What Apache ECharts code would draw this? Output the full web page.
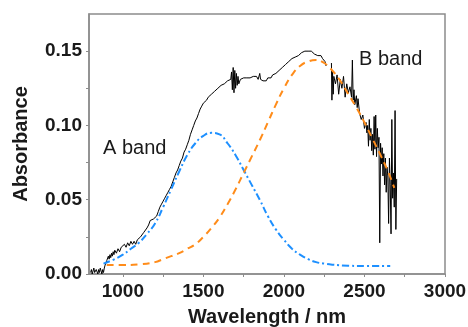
<!DOCTYPE html>
<html>
<head>
<meta charset="utf-8">
<script src="https://cdn.jsdelivr.net/npm/echarts@6/dist/echarts.min.js"></script>
<style>
html,body{margin:0;padding:0;background:#fff;}
#c{width:468px;height:327px;}
</style>
</head>
<body>
<div id="c"></div>
<script>
// Measured spectrum (black): wavelength (nm) and absorbance; null = gap in data
const spectrumWavelength = [
800,805,810,815,820,825,830,835,840,845,850,855,860,865,870,875,880,885,890,895,
900,905,910,915,920,925,930,935,940,945,950,960,970,980,990,1000,1010,1020,1030,1040,
1050,1060,1070,1080,1090,1100,1110,1120,1130,1140,1150,1160,1170,1180,1190,1200,1210,1220,1230,1240,
1250,1260,1270,1280,1290,1300,1310,1320,1330,1340,1350,1360,1370,1380,1390,1400,1410,1420,1430,1440,
1450,1460,1470,1480,1490,1500,1510,1520,1530,1540,1550,1560,1570,1580,1590,1600,1610,1620,1630,1640,
1650,1660,1670,1675,1680,1685,1690,1695,1700,1705,1710,1715,1720,1730,1740,1750,1760,1770,1780,1790,
1800,1810,1820,1830,1840,1850,1855,1860,1870,1880,1890,1900,1910,1920,1930,1940,1950,1960,1970,1980,
1990,2000,2010,2020,2030,2040,2050,2060,2070,2080,2090,2100,2110,2120,2130,2140,2150,2160,2170,2180,
2190,2200,2210,2220,2230,2240,2250,2255,2262,2278,
2295,2298,2302,2306,2310,2320,2330,2340,2350,2360,2370,2380,2390,2400,2410,2420,2425,2430,2435,2440,
2450,2455,2460,2470,2480,2490,2500,2510,2515,2520,2525,2530,2535,2540,2545,2550,2555,2560,2565,2570,
2575,2580,2585,2590,2595,2600,2605,2610,2615,2620,2625,2630,2635,2640,2645,2650,2655,2660,2665,2670,
2675,2680,2685,2690,2695,2700
];
const spectrumAbsorbance = [
0.001,0.003,0.000,0.002,0.004,0.001,0.000,0.003,0.002,0.000,0.003,0.001,0.004,0.002,0.000,0.003,0.001,0.004,0.006,0.005,
0.009,0.008,0.012,0.010,0.013,0.011,0.014,0.012,0.015,0.013,0.016,0.014,0.017,0.015,0.018,0.017,0.020,0.018,0.021,0.019,
0.022,0.020,0.022,0.020,0.023,0.022,0.025,0.026,0.028,0.029,0.031,0.033,0.036,0.035,0.037,0.036,0.039,0.042,0.045,0.047,
0.049,0.051,0.053,0.055,0.057,0.059,0.062,0.065,0.068,0.070,0.073,0.076,0.078,0.082,0.084,0.087,0.090,0.094,0.097,0.100,
0.103,0.105,0.108,0.111,0.113,0.115,0.116,0.117,0.119,0.120,0.121,0.122,0.123,0.124,0.125,0.126,0.127,0.128,0.128,0.129,
0.130,0.131,0.131,0.136,0.124,0.139,0.122,0.137,0.125,0.135,0.127,0.133,0.128,0.131,0.130,0.132,0.131,0.132,0.131,0.132,
0.132,0.133,0.132,0.133,0.131,0.135,0.131,0.132,0.130,0.131,0.130,0.132,0.133,0.132,0.134,0.134,0.135,0.136,0.137,0.138,
0.139,0.140,0.141,0.142,0.143,0.144,0.145,0.146,0.146,0.147,0.147,0.148,0.149,0.149,0.150,0.149,0.150,0.149,0.150,0.149,
0.148,0.148,0.147,0.146,0.147,0.145,0.146,0.143,0.140,null,
0.142,0.117,0.136,0.121,0.133,0.128,0.134,0.121,0.131,0.125,0.133,0.119,0.128,0.122,0.126,0.119,0.144,0.117,0.124,0.114,
0.120,0.112,0.118,0.108,0.104,0.107,0.098,0.102,0.095,0.100,0.086,0.104,0.090,0.098,0.083,0.094,0.080,0.106,0.084,0.107,
0.079,0.098,0.085,0.092,0.021,0.088,0.074,0.085,0.066,0.081,0.060,0.078,0.055,0.072,0.066,0.034,0.078,0.060,0.027,0.104,
0.051,0.068,0.045,0.110,0.030,0.064
];
// A band fit (blue dash-dot)
const bandAWavelength = [880,950,1000,1050,1100,1150,1200,1250,1300,1350,1400,1450,1500,1550,1600,1650,1700,1750,1800,1850,1900,1950,2000,2050,2100,2150,2200,2250,2300,2400,2500,2660];
const bandAAbsorbance = [0.007,0.010,0.013,0.017,0.021,0.027,0.034,0.045,0.057,0.069,0.080,0.088,0.093,0.095,0.094,0.088,0.080,0.070,0.060,0.050,0.039,0.030,0.023,0.017,0.013,0.010,0.008,0.007,0.0063,0.0056,0.0054,0.0054];
// B band fit (orange dashed)
const bandBWavelength = [900,1000,1100,1200,1250,1300,1350,1400,1450,1500,1550,1600,1650,1700,1750,1800,1850,1900,1950,2000,2050,2100,2150,2200,2250,2300,2350,2400,2450,2500,2550,2600,2650,2685];
const bandBAbsorbance = [0.006,0.006,0.0065,0.008,0.010,0.012,0.014,0.017,0.020,0.025,0.031,0.038,0.047,0.057,0.068,0.079,0.090,0.102,0.114,0.125,0.134,0.140,0.143,0.144,0.142,0.137,0.130,0.121,0.112,0.102,0.091,0.080,0.068,0.058];
// Axis ticks / labels
const xLabels = [1000,1500,2000,2500,3000];
const xTicks = [1000,1250,1500,1750,2000,2250,2500,2750,3000];
const yLabels = [0,0.05,0.10,0.15];
const yTicks = [0,0.025,0.05,0.075,0.10,0.125,0.15];
const bandNames = ['A band','B band'];

const zip = (xs, ys) => xs.map((x, i) => [x, ys[i] === null ? '-' : ys[i]]);

const chart = echarts.init(document.getElementById('c'), null, {renderer:'canvas'});
const axisColor = '#8c8c8c';
const font = 'Liberation Sans, Arial, sans-serif';
chart.setOption({
  animation:false,
  backgroundColor:'#fff',
  grid:{left:89,right:23,top:14,bottom:53,show:true,borderColor:axisColor,borderWidth:1.5,backgroundColor:'transparent',
        containLabel:false,outerBoundsMode:'none'},
  xAxis:{
    type:'value',min:790,max:3000,
    name:'Wavelength / nm',nameLocation:'middle',nameGap:33,
    nameTextStyle:{fontFamily:font,fontWeight:'bold',fontSize:20,color:'#1a1a1a'},
    axisLine:{show:true,lineStyle:{color:axisColor,width:1.5}},
    axisTick:{show:true,inside:false,length:3,customValues:xTicks,lineStyle:{color:axisColor,width:1}},
    axisLabel:{customValues:xLabels,margin:8,fontFamily:font,fontWeight:'bold',fontSize:19,color:'#1a1a1a',
      formatter:v=>String(Math.round(v))},
    splitLine:{show:false}
  },
  yAxis:{
    type:'value',min:0,max:0.175,
    name:'Absorbance',nameLocation:'middle',nameGap:58,
    nameTextStyle:{fontFamily:font,fontWeight:'bold',fontSize:20,color:'#1a1a1a'},
    axisLine:{show:true,lineStyle:{color:axisColor,width:1.5}},
    axisTick:{show:true,inside:false,length:3,customValues:yTicks,lineStyle:{color:axisColor,width:1}},
    axisLabel:{customValues:yLabels,margin:7,fontFamily:font,fontWeight:'bold',fontSize:19,color:'#1a1a1a',
      formatter:v=>v.toFixed(2)},
    splitLine:{show:false}
  },
  series:[
    {type:'line',data:zip(spectrumWavelength,spectrumAbsorbance),symbol:'none',connectNulls:false,
     lineStyle:{color:'#000',width:1},z:2},
    {type:'line',data:zip(bandAWavelength,bandAAbsorbance),symbol:'none',smooth:true,
     lineStyle:{color:'#1e90ff',width:2,type:[7,3,2,3]},z:3},
    {type:'line',data:zip(bandBWavelength,bandBAbsorbance),symbol:'none',smooth:true,
     lineStyle:{color:'#ff8c1a',width:2,type:[7,5]},z:4}
  ],
  graphic:[
    {type:'text',x:103,y:148,style:{text:bandNames[0],fontFamily:font,fontSize:20,fill:'#1a1a1a',textAlign:'left',textVerticalAlign:'middle'}},
    {type:'text',x:359,y:59,style:{text:bandNames[1],fontFamily:font,fontSize:20,fill:'#1a1a1a',textAlign:'left',textVerticalAlign:'middle'}}
  ]
});
</script>
</body>
</html>
